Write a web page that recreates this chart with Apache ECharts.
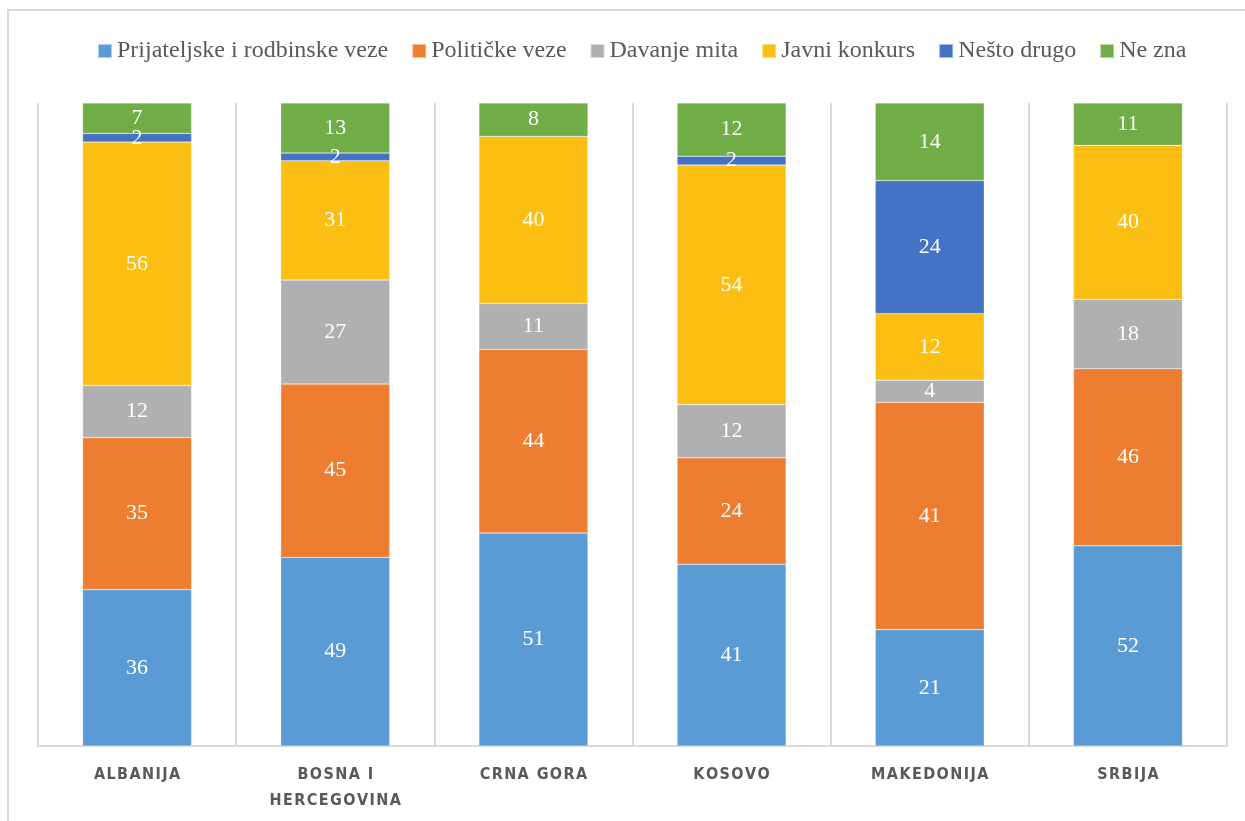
<!DOCTYPE html>
<html>
<head>
<meta charset="utf-8">
<script src="https://cdn.jsdelivr.net/npm/echarts@6/dist/echarts.min.js"></script>
<style>
  html, body { margin: 0; padding: 0; background: #fff; }
  #chart { width: 1245px; height: 821px; }
</style>
</head>
<body>
<div id="chart"></div>
<script>
const countries = ['ALBANIJA', 'BOSNA I\nHERCEGOVINA', 'CRNA GORA', 'KOSOVO', 'MAKEDONIJA', 'SRBIJA'];
const seriesNames = ['Prijateljske i rodbinske veze', 'Političke veze', 'Davanje mita', 'Javni konkurs', 'Nešto drugo', 'Ne zna'];
const prijateljske = [36, 49, 51, 41, 21, 52];
const politicke = [35, 45, 44, 24, 41, 46];
const mito = [12, 27, 11, 12, 4, 18];
const konkurs = [56, 31, 40, 54, 12, 40];
const nestoDrugo = [2, 2, 0, 2, 24, 0];
const neZna = [7, 13, 8, 12, 14, 11];
const colors = ['#5B9BD5', '#ED7D31', '#B0B0B3', '#FBBF13', '#4472C4', '#70AD47'];

const allValues = [prijateljske, politicke, mito, konkurs, nestoDrugo, neZna];
// bars are stretched to full height (share of the column total)
const totals = countries.map((c, i) => allValues.reduce((s, arr) => s + arr[i], 0));

// a bit of letter spacing like the original axis font
const spaced = s => s.split('\n').map(l => l.split('').join('\u200A')).join('\n');

const myChart = echarts.init(document.getElementById('chart'));
const option = {
  animation: false,
  color: colors,
  graphic: [{
    type: 'rect',
    shape: { x: 8, y: 10, width: 1260, height: 840 },
    style: { fill: 'none', stroke: '#D9D9D9', lineWidth: 2 }
  }],
  legend: {
    top: 34,
    left: 92,
    itemWidth: 14,
    itemHeight: 14,
    itemGap: 23,
    icon: 'rect',
    textStyle: { fontFamily: 'Liberation Serif', fontSize: 24, color: '#595959' },
    data: seriesNames
  },
  grid: { left: 38, right: 18, top: 103, bottom: 75 },
  xAxis: {
    type: 'category',
    data: countries,
    axisTick: { show: false },
    axisLine: { lineStyle: { color: '#D9D9D9', width: 2 } },
    splitLine: { show: true, lineStyle: { color: '#D9D9D9', width: 2 } },
    axisLabel: {
      margin: 16,
      fontFamily: "'DejaVu Sans Condensed', sans-serif",
      fontWeight: 'bold',
      fontSize: 16,
      lineHeight: 26,
      color: '#595959',
      formatter: v => spaced(v)
    }
  },
  yAxis: {
    type: 'value',
    min: 0,
    max: 1,
    show: false,
    splitLine: { show: false }
  },
  series: seriesNames.map((name, k) => ({
    name: name,
    type: 'bar',
    stack: 'total',
    barWidth: '55%',
    data: allValues[k].map((v, i) => ({ value: v / totals[i], raw: v })),
    itemStyle: { borderColor: 'rgba(255,255,255,0.5)', borderWidth: 0.5 },
    label: {
      show: true,
      position: 'inside',
      color: '#fff',
      fontFamily: 'Liberation Serif',
      fontSize: 22,
      formatter: p => (p.data.raw ? String(p.data.raw) : '')
    }
  }))
};
myChart.setOption(option);
</script>
</body>
</html>
